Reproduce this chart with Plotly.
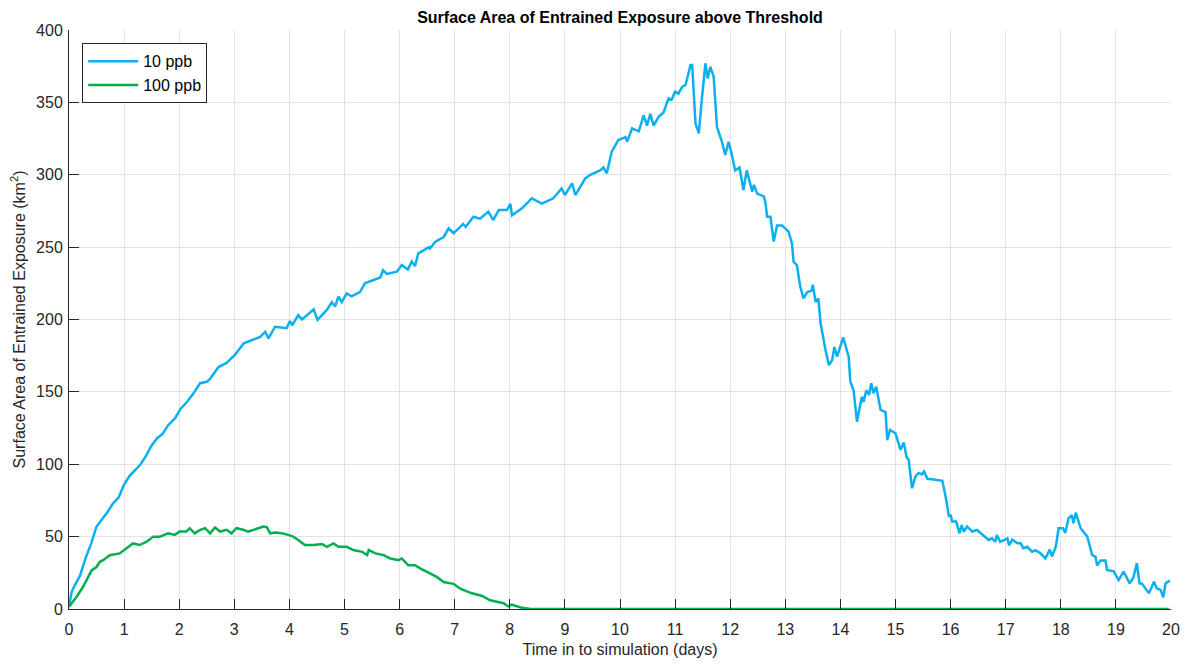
import plotly.graph_objects as go

# 10 ppb threshold
t_10 = [0.0, 0.05, 0.1, 0.2, 0.3, 0.4, 0.5, 0.6, 0.7, 0.8, 0.9, 1.0, 1.1, 1.2, 1.3, 1.4, 1.5, 1.6, 1.7, 1.8,
        1.93, 2.02, 2.14, 2.26, 2.38, 2.5, 2.56, 2.71, 2.86, 3.01, 3.17, 3.29, 3.47, 3.56, 3.62, 3.74, 3.95,
        4.01, 4.05, 4.16, 4.23, 4.44, 4.51, 4.68, 4.77, 4.83, 4.89, 4.95, 5.04, 5.13, 5.28, 5.37, 5.5, 5.65,
        5.7, 5.77, 5.95, 6.04, 6.15, 6.22, 6.28, 6.34, 6.53, 6.55, 6.65, 6.8, 6.89, 6.98, 7.1, 7.15, 7.2,
        7.34, 7.46, 7.61, 7.7, 7.8, 7.95, 8.01, 8.04, 8.22, 8.4, 8.58, 8.79, 8.94, 9.0, 9.13, 9.19, 9.37,
        9.46, 9.64, 9.7, 9.76, 9.85, 9.97, 10.1, 10.13, 10.22, 10.34, 10.43, 10.49, 10.55, 10.61, 10.7,
        10.79, 10.88, 10.94, 11.0, 11.06, 11.13, 11.19, 11.28, 11.31, 11.37, 11.43, 11.49, 11.55, 11.59,
        11.64, 11.7, 11.76, 11.85, 11.91, 11.97, 12.03, 12.09, 12.17, 12.24, 12.3, 12.4, 12.43, 12.49,
        12.61, 12.64, 12.67, 12.73, 12.79, 12.85, 12.94, 13.06, 13.12, 13.15, 13.21, 13.27, 13.33, 13.4,
        13.48, 13.5, 13.55, 13.6, 13.64, 13.73, 13.79, 13.85, 13.89, 13.94, 14.05, 14.15, 14.18, 14.24,
        14.3, 14.39, 14.42, 14.47, 14.52, 14.56, 14.6, 14.65, 14.73, 14.82, 14.85, 14.9, 15.0, 15.09,
        15.15, 15.2, 15.24, 15.3, 15.36, 15.42, 15.48, 15.52, 15.58, 15.66, 15.75, 15.85, 15.91, 15.97,
        16.0, 16.03, 16.1, 16.16, 16.2, 16.24, 16.3, 16.39, 16.48, 16.57, 16.69, 16.75, 16.81, 16.84,
        16.9, 16.97, 17.03, 17.06, 17.12, 17.21, 17.27, 17.32, 17.39, 17.48, 17.54, 17.63, 17.72, 17.8,
        17.84, 17.91, 17.96, 18.04, 18.08, 18.14, 18.2, 18.23, 18.27, 18.36, 18.48, 18.57, 18.63, 18.66,
        18.72, 18.81, 18.84, 18.96, 19.05, 19.14, 19.25, 19.32, 19.38, 19.43, 19.47, 19.6, 19.69, 19.74,
        19.81, 19.86, 19.9, 19.98]
area_10 = [2, 12, 16, 23, 35, 45, 57, 62, 67, 73, 77, 86, 92, 96, 100, 106, 113, 118, 121, 127,
           132, 138, 143, 149, 156, 157, 159, 167, 170, 175.5, 183.5, 185.3, 188, 191.5, 187, 195, 194,
           199, 196, 203, 200, 207, 199.7, 206.6, 212, 209, 215.7, 212, 218, 216, 219, 225, 227, 229,
           234, 231.5, 233, 237.7, 234.5, 240, 237, 245.7, 250, 249, 253.7, 257, 263, 259.6, 264, 266, 264,
           271, 269.7, 274.5, 268.7, 275.6, 275.6, 280, 272, 276.8, 283.7, 280, 283.7, 290.5, 286, 294, 286, 297.5,
           300, 303, 305, 301, 316, 324, 326, 323, 332, 330, 341, 334, 342, 334, 340,
           343, 352.7, 352, 357.4, 356, 360.8, 362, 375.8, 375.8, 335.5, 328.6, 354, 377, 366.6,
           374.5, 367.8, 333, 322.8, 313.6, 322.8, 314, 303, 305, 289.5, 303, 288.3, 293, 287,
           285, 280.6, 271, 271, 253.8, 265, 265, 260.7, 252.6, 240, 237.6, 223, 214.6, 219,
           220, 224, 212, 214.6, 197.4, 179, 168.5, 171.9, 181, 174.3, 187.7, 174.3, 157, 151,
           129.4, 146.7, 143, 151, 148, 156, 149, 153.6, 137.5, 136, 116.7, 123.7, 121.4, 110,
           115, 105, 103, 83.4, 91.4, 94, 93, 95, 90, 89.6, 89, 88.6, 77.6, 63.8,
           65, 60.5, 60.5, 52.3, 58, 53.5, 57, 53.5, 54.6, 51.5, 47.7, 48.8, 46.5, 51,
           46.5, 47.6, 48.8, 44, 48, 45.5, 45.5, 42, 43, 39.6, 40.7, 38.5, 35, 41,
           36.3, 43, 55.8, 55.8, 52.5, 62.6, 64.8, 59.3, 66.5, 55.8, 50, 37.3, 36, 30,
           33.5, 33.5, 27, 26, 20, 25.8, 17.7, 22, 31.6, 17.7, 17.7, 10.8, 18.9, 14.3,
           13.2, 8, 17.7, 19.6]

# 100 ppb threshold
t_100 = [0.0, 0.13, 0.25, 0.41, 0.5, 0.56, 0.62, 0.74, 0.92, 1.04, 1.16, 1.28, 1.41, 1.53, 1.65, 1.8, 1.92,
         2.01, 2.13, 2.19, 2.28, 2.38, 2.47, 2.56, 2.65, 2.74, 2.86, 2.95, 3.04, 3.16, 3.25, 3.35, 3.44, 3.53,
         3.59, 3.65, 3.74, 3.86, 3.98, 4.07, 4.16, 4.28, 4.44, 4.59, 4.68, 4.8, 4.89, 5.04, 5.16, 5.32, 5.41,
         5.44, 5.56, 5.71, 5.83, 5.98, 6.04, 6.16, 6.28, 6.38, 6.56, 6.68, 6.8, 6.98, 7.1, 7.3, 7.5, 7.64,
         7.89, 7.97, 8.03, 8.2, 8.38, 10.0, 15.0, 19.96]
area_100 = [1.6, 8, 15, 26.7, 29, 32.6, 33.7, 37.2, 38.4, 41.9, 45.3, 44.2, 46.5, 50, 50, 52.3, 51.2,
            53.5, 53.5, 55.8, 52.3, 54.7, 55.8, 52.3, 56.3, 53.5, 54.7, 52.3, 55.8, 54.7, 53.5, 54.7, 55.8, 57,
            56.5, 52.3, 52.8, 52.3, 51.2, 50, 47.7, 44.2, 44.2, 44.9, 43, 45.3, 43, 43, 40.7, 39.5, 37.2,
            40.7, 38.4, 37.2, 34.9, 33.7, 34.9, 30.2, 30.2, 27.9, 24.4, 22, 18.6, 17.4, 14, 11, 9, 6,
            4, 1.8, 3, 1, 0, 0, 0, 0]

font = "Liberation Sans, Arial, sans-serif"
ink = "#262626"

fig = go.Figure()
fig.add_trace(go.Scatter(x=t_10, y=area_10, name="10 ppb", mode="lines",
                         line=dict(color="#0DB0EE", width=2.5)))
fig.add_trace(go.Scatter(x=t_100, y=area_100, name="100 ppb", mode="lines",
                         line=dict(color="#00B050", width=2.5)))

# the page body has an 8px margin, so the figure is 8px smaller each way
fig.update_layout(
    width=1180, height=656,
    margin=dict(l=61, r=17, t=22, b=55),
    paper_bgcolor="white", plot_bgcolor="white",
    font=dict(family=font, size=16, color=ink),
    title=dict(text="<b>Surface Area of Entrained Exposure above Threshold</b>",
               x=(61 + 1163) / 2 / 1180, xanchor="center", y=0.985, yanchor="middle",
               font=dict(size=16, color="black")),
    legend=dict(x=0.012, y=0.977, xanchor="left", yanchor="top",
                bgcolor="white", bordercolor=ink, borderwidth=1, itemwidth=50,
                font=dict(size=16, color="black"), tracegroupgap=0),
    showlegend=True,
)
fig.update_xaxes(range=[0, 20], dtick=1, tick0=0, showgrid=True, gridcolor="#e3e3e3", gridwidth=1,
                 showline=True, linecolor=ink, linewidth=1, ticks="inside", ticklen=10,
                 tickcolor=ink, zeroline=False, automargin=False, ticklabelstandoff=6,
                 title=dict(text="Time in to simulation (days)", standoff=6, font=dict(size=16)))
fig.update_yaxes(range=[0, 400], dtick=50, tick0=0, showgrid=True, gridcolor="#e3e3e3", gridwidth=1,
                 showline=True, linecolor=ink, linewidth=1, ticks="inside", ticklen=10,
                 tickcolor=ink, zeroline=False, automargin=False, ticklabelstandoff=2,
                 title=dict(text="Surface Area of Entrained Exposure (km<sup>2</sup>)", standoff=8,
                            font=dict(size=16)))

fig.write_html("out.html")
